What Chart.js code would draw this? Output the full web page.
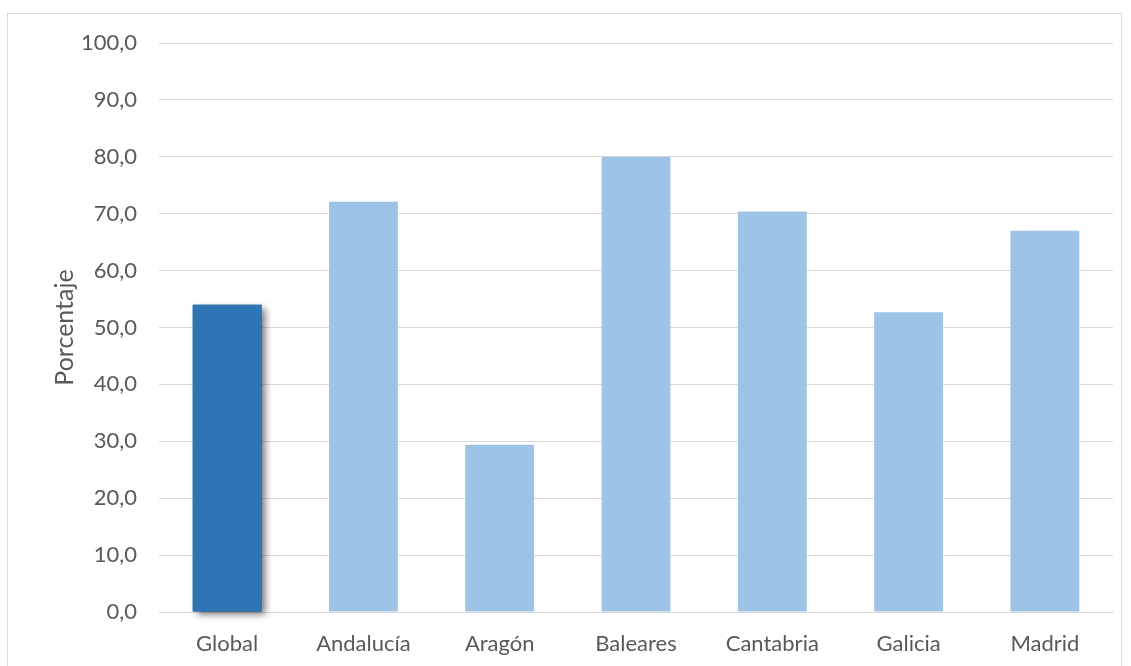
<!DOCTYPE html>
<html><head><meta charset="utf-8">
<script src="https://cdn.jsdelivr.net/npm/chart.js@4"></script>
<style>
html,body{margin:0;padding:0;background:#fff;}
#wrap{position:relative;width:1131px;height:666px;overflow:hidden;}
#frame{position:absolute;left:7px;top:13px;width:1115px;height:700px;border:1px solid #d9d9d9;box-sizing:border-box;}
canvas{position:absolute;left:0;top:0;}
</style></head>
<body><div id="wrap"><div id="frame"></div><canvas id="c" width="1131" height="666"></canvas></div>
<script>
const categories = ["Global","Andalucía","Aragón","Baleares","Cantabria","Galicia","Madrid"];
const values = [54.0, 72.1, 29.4, 80.0, 70.4, 52.7, 67.0];
const barColors = ["#2E75B6","#9DC3E6","#9DC3E6","#9DC3E6","#9DC3E6","#9DC3E6","#9DC3E6"];
const yTicks = [0,10,20,30,40,50,60,70,80,90,100];
const yTitle = "Porcentaje";

const FONT = "Lato";
const TXT = "#595959";

const shadowPlugin = {
  id:'shadowGlobal',
  afterDatasetsDraw(chart){
    const el = chart.getDatasetMeta(0).data[0];
    if(!el) return;
    const ctx = chart.ctx;
    const p = el.getProps(['x','y','base','width'], true);
    ctx.save();
    ctx.shadowColor = 'rgba(0,0,0,0.5)';
    ctx.shadowBlur = 7;
    ctx.shadowOffsetX = 4;
    ctx.shadowOffsetY = 3;
    ctx.fillStyle = barColors[0];
    ctx.fillRect(p.x - p.width/2, p.y, p.width, p.base - p.y);
    ctx.restore();
  }
};

new Chart(document.getElementById('c'), {
  type:'bar',
  data:{labels:categories, datasets:[{data:values, backgroundColor:barColors, borderWidth:0, barPercentage:0.505, categoryPercentage:1}]},
  options:{
    responsive:false, animation:false, devicePixelRatio:1,
    layout:{padding:{top:43,right:18,bottom:0,left:0}},
    plugins:{legend:{display:false}, tooltip:{enabled:false}},
    scales:{
      x:{
        grid:{display:false, drawTicks:false},
        border:{display:true, color:'#d9d9d9', width:1},
        ticks:{color:TXT, font:{family:FONT,size:22}, padding:19},
        afterFit(s){ s.height = 54; }
      },
      y:{
        min:0, max:100,
        afterBuildTicks(s){ s.ticks = yTicks.map(v=>({value:v})); },
        grid:{color:'#d9d9d9', drawTicks:false, lineWidth:1},
        border:{display:false},
        ticks:{color:TXT, font:{family:FONT,size:22}, padding:22, callback:v=>v.toFixed(1).replace('.',',')},
        title:{display:true, text:yTitle, color:TXT, font:{family:FONT,size:25}, padding:{top:50,bottom:0}},
        afterFit(s){ s.width = 159; }
      }
    }
  },
  plugins:[shadowPlugin]
});
</script></body></html>
